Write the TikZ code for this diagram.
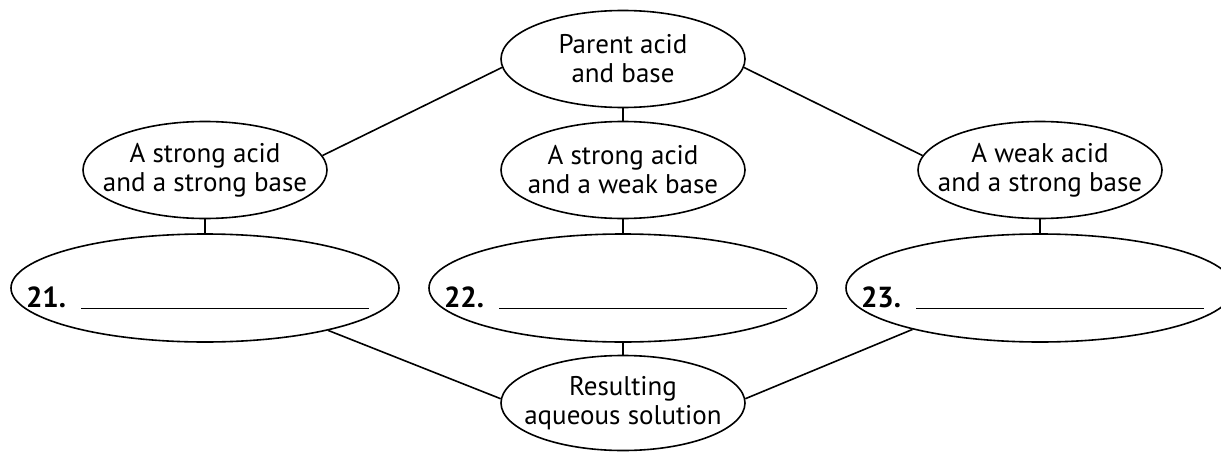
\documentclass[tikz,border=0pt]{standalone}
\usepackage{fontspec}
\setmainfont{PT Sans}
\usetikzlibrary{shapes.geometric, positioning}
\tikzset{
    base/.style = {draw=black, line width=1.6pt, ellipse, inner sep=0pt},
    % Bubbles
    topic/.style  = {base, minimum width=244pt, minimum height=97pt},
    blank/.style  = {base, minimum width=388pt, minimum height=108pt},
    % Texts inside the bubbles
    caption/.style  = {align=center, inner sep=0pt, font=\fontsize{27}{29}\selectfont},
    numbered/.style = {anchor=base, xshift=-7.5pt, yshift=-10pt, inner sep=0pt,
                       font=\fontsize{29}{30}\selectfont},
    % Connectors
    link/.style = {line width=1.6pt}
}

\begin{document}
\begin{tikzpicture}[x=1pt, y=-1pt]
    \useasboundingbox (0,0) rectangle (1221,452);

    \node (parent) [topic, label={[caption]center:Parent acid\\and base}] at (623,59) {};

    \node (sasb) [topic, label={[caption]center:A strong acid\\and a strong base}] at (205,170) {};
    \node (sawb) [topic, label={[caption]center:A strong acid\\and a weak base}] at (623,170) {};
    \node (wasb) [topic, label={[caption]center:A weak acid\\and a strong base}] at (1040,170) {};

    \node (ans21) [blank, label={[numbered]center:\makebox[343pt]{\textbf{21.}\hfill\rule[-1pt]{288pt}{1pt}}}] at (205,288) {};
    \node (ans22) [blank, label={[numbered]center:\makebox[343pt]{\textbf{22.}\hfill\rule[-1pt]{288pt}{1pt}}}] at (623,288) {};
    \node (ans23) [blank, label={[numbered]center:\makebox[343pt]{\textbf{23.}\hfill\rule[-1pt]{288pt}{1pt}}}] at (1040,288) {};

    \node (result) [topic, minimum height=95pt, label={[caption]center:Resulting\\aqueous solution}] at (623,403) {};

    \draw [link] (parent.184) -- (sasb.7);
    \draw [link] (parent) -- (sawb);
    \draw [link] (parent.356) -- (wasb.173);

    \draw [link] (sasb) -- (ans21);
    \draw [link] (sawb) -- (ans22);
    \draw [link] (wasb) -- (ans23);

    % Answers join again at the bottom
    \draw [link] (ans21.341) -- (result.178);
    \draw [link] (ans22) -- (result);
    \draw [link] (ans23.198) -- (result.2);
\end{tikzpicture}
\end{document}
